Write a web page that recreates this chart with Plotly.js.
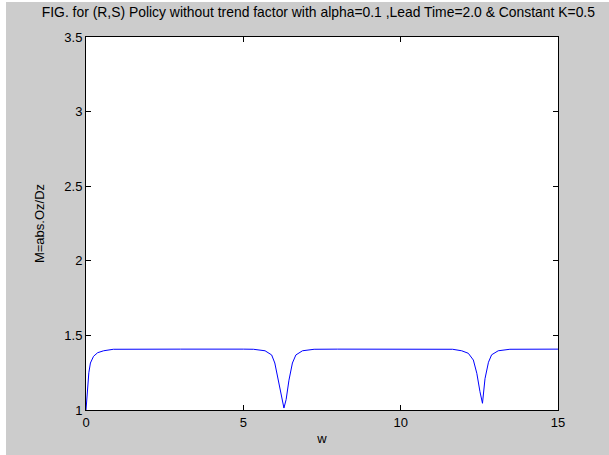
<!DOCTYPE html>
<html>
<head>
<meta charset="utf-8">
<script src="https://cdn.plot.ly/plotly-3.0.1.min.js"></script>
<style>
html,body{margin:0;padding:0;background:#ffffff;}
#chart{position:absolute;left:6px;top:2px;width:603px;height:453px;}
</style>
</head>
<body>
<div id="chart"></div>
<script>
// Frequency w and magnitude M = abs(Oz/Dz)
const wValues = [0, 0.02, 0.06, 0.09, 0.14, 0.24, 0.37, 0.56, 0.87, 1.5, 3, 5, 5.32, 5.69, 5.9, 6.0, 6.11, 6.22, 6.29, 6.36, 6.45, 6.56, 6.67, 6.88, 7.25, 8, 10, 11.65, 11.94, 12.15, 12.31, 12.42, 12.52, 12.60, 12.68, 12.79, 12.89, 13.10, 13.47, 14, 15];
const mValues = [1.0, 1.06, 1.15, 1.25, 1.315, 1.36, 1.384, 1.397, 1.407, 1.408, 1.408, 1.408, 1.407, 1.397, 1.369, 1.315, 1.20, 1.067, 1.013, 1.07, 1.20, 1.315, 1.369, 1.397, 1.407, 1.408, 1.408, 1.407, 1.397, 1.38, 1.335, 1.246, 1.123, 1.045, 1.21, 1.32, 1.37, 1.397, 1.407, 1.408, 1.408];
const xTicks = [0, 5, 10, 15];
const yTicks = [1, 1.5, 2, 2.5, 3, 3.5];
const yTickText = ['1', '1.5', '2', '2.5', '3', '3.5'];

const trace = {
  x: wValues, y: mValues, type: 'scatter', mode: 'lines',
  line: {color: '#0000ff', width: 1}, hoverinfo: 'skip'
};

const fnt = {family: 'Liberation Sans, Arial, sans-serif', size: 13, color: '#000000'};
const titleFnt = {family: 'Liberation Sans, Arial, sans-serif', size: 13.9, color: '#000000'};
const layout = {
  width: 603, height: 453,
  paper_bgcolor: '#cccccc', plot_bgcolor: '#ffffff',
  margin: {l: 80, r: 51, t: 35, b: 45, pad: 0},
  showlegend: false,
  font: fnt,
  title: {text: 'FIG. for (R,S) Policy without trend factor with alpha=0.1 ,Lead Time=2.0 & Constant K=0.5',
          font: titleFnt, x: 0.518, xref: 'container', xanchor: 'center', y: 0.977, yref: 'container', yanchor: 'middle'},
  xaxis: {range: [0, 15], tickvals: xTicks, ticktext: xTicks.map(String),
          ticks: 'inside', ticklen: 5, tickcolor: '#000000', tickwidth: 1,
          showline: true, linecolor: '#000000', linewidth: 1, mirror: 'ticks',
          showgrid: false, zeroline: false, tickfont: fnt,
          title: {text: 'w', font: fnt, standoff: 5}},
  yaxis: {range: [1, 3.5], tickvals: yTicks, ticktext: yTickText,
          ticks: 'inside', ticklen: 5, tickcolor: '#000000', tickwidth: 1,
          showline: true, linecolor: '#000000', linewidth: 1, mirror: 'ticks',
          showgrid: false, zeroline: false, tickfont: fnt,
          title: {text: 'M=abs.Oz/Dz', font: fnt, standoff: 16}}
};
Plotly.newPlot('chart', [trace], layout, {displayModeBar: false, staticPlot: true});
</script>
</body>
</html>
